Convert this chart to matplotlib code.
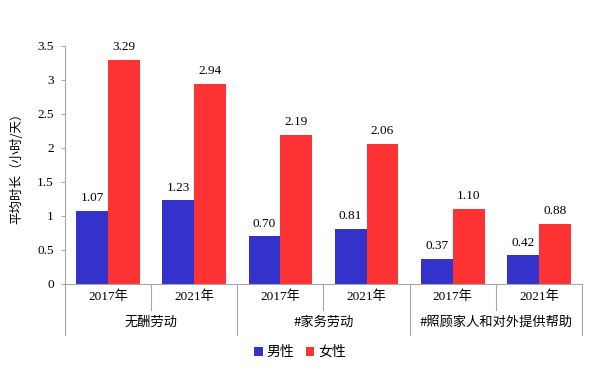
import matplotlib
matplotlib.use("Agg")
import matplotlib.pyplot as plt
import numpy as np

plt.rcParams['font.family'] = ['Liberation Serif', 'Noto Sans CJK SC', 'DejaVu Sans']

groups = ["无酬劳动", "#家务劳动", "#照顾家人和对外提供帮助"]
years = ["2017年", "2021年"]
male = [1.07, 1.23, 0.70, 0.81, 0.37, 0.42]
female = [3.29, 2.94, 2.19, 2.06, 1.10, 0.88]
series_names = ["男性", "女性"]
yticks = [0, 0.5, 1, 1.5, 2, 2.5, 3, 3.5]
ytick_labels = ["0", "0.5", "1", "1.5", "2", "2.5", "3", "3.5"]

blue = "#3333CC"
red = "#FF3333"
axcol = "#A6A6A6"

fig = plt.figure(figsize=(5.95, 3.85), dpi=100)
ax = fig.add_axes([65/595, 1-284/385, (582-65)/595, (284-46)/385])

x = np.arange(len(male))
w = 0.37
b1 = ax.bar(x - w/2, male, w, color=blue, label=series_names[0])
b2 = ax.bar(x + w/2, female, w, color=red, label=series_names[1])
for bars, vals in ((b1, male), (b2, female)):
    for r, v in zip(bars, vals):
        ax.text(r.get_x() + r.get_width()/2, v + 0.1, f"{v:.2f}", ha="center", va="bottom",
                fontsize=9.5, family=['Liberation Serif', 'Noto Sans CJK SC'])

ax.set_xlim(-0.5, len(male) - 0.5)
ax.set_ylim(0, 3.5)
ax.set_yticks(yticks)
ax.set_yticklabels(ytick_labels, fontsize=9.5)
ax.tick_params(axis='y', direction='out', length=3, color=axcol, pad=5)
ax.set_xticks([])
for s in ['top', 'right']:
    ax.spines[s].set_visible(False)
ax.spines['left'].set_color(axcol)
ax.spines['bottom'].set_color(axcol)

ax.set_ylabel("平均时长（小时/天）", fontsize=9, family=['Noto Sans CJK SC'], labelpad=10)

# multi-level category axis
trans = ax.get_xaxis_transform()
row1 = -26/238
row2 = -51/238
n = len(male)
for i in range(n + 1):
    xb = i - 0.5
    bottom = row2 if i % 2 == 0 else row1
    ax.plot([xb, xb], [0, bottom], transform=trans, color=axcol, lw=0.8, clip_on=False)
for i in range(n):
    ax.text(i, row1/2, years[i % 2], transform=trans, ha="center", va="center", fontsize=9.5)
for g, name in enumerate(groups):
    ax.text(2*g + 0.5, (row1 + row2)/2, name, transform=trans, ha="center", va="center",
            fontsize=9.5, family=['Noto Sans CJK SC'])

leg = fig.legend(handles=[b1, b2], labels=series_names, loc="center", bbox_to_anchor=(300/595, 1-352/385),
                 ncol=2, frameon=False, handlelength=0.6, handleheight=0.6,
                 handletextpad=0.3, columnspacing=0.8, prop={'family': 'Noto Sans CJK SC', 'size': 10})

fig.savefig("out.png", dpi=100)
